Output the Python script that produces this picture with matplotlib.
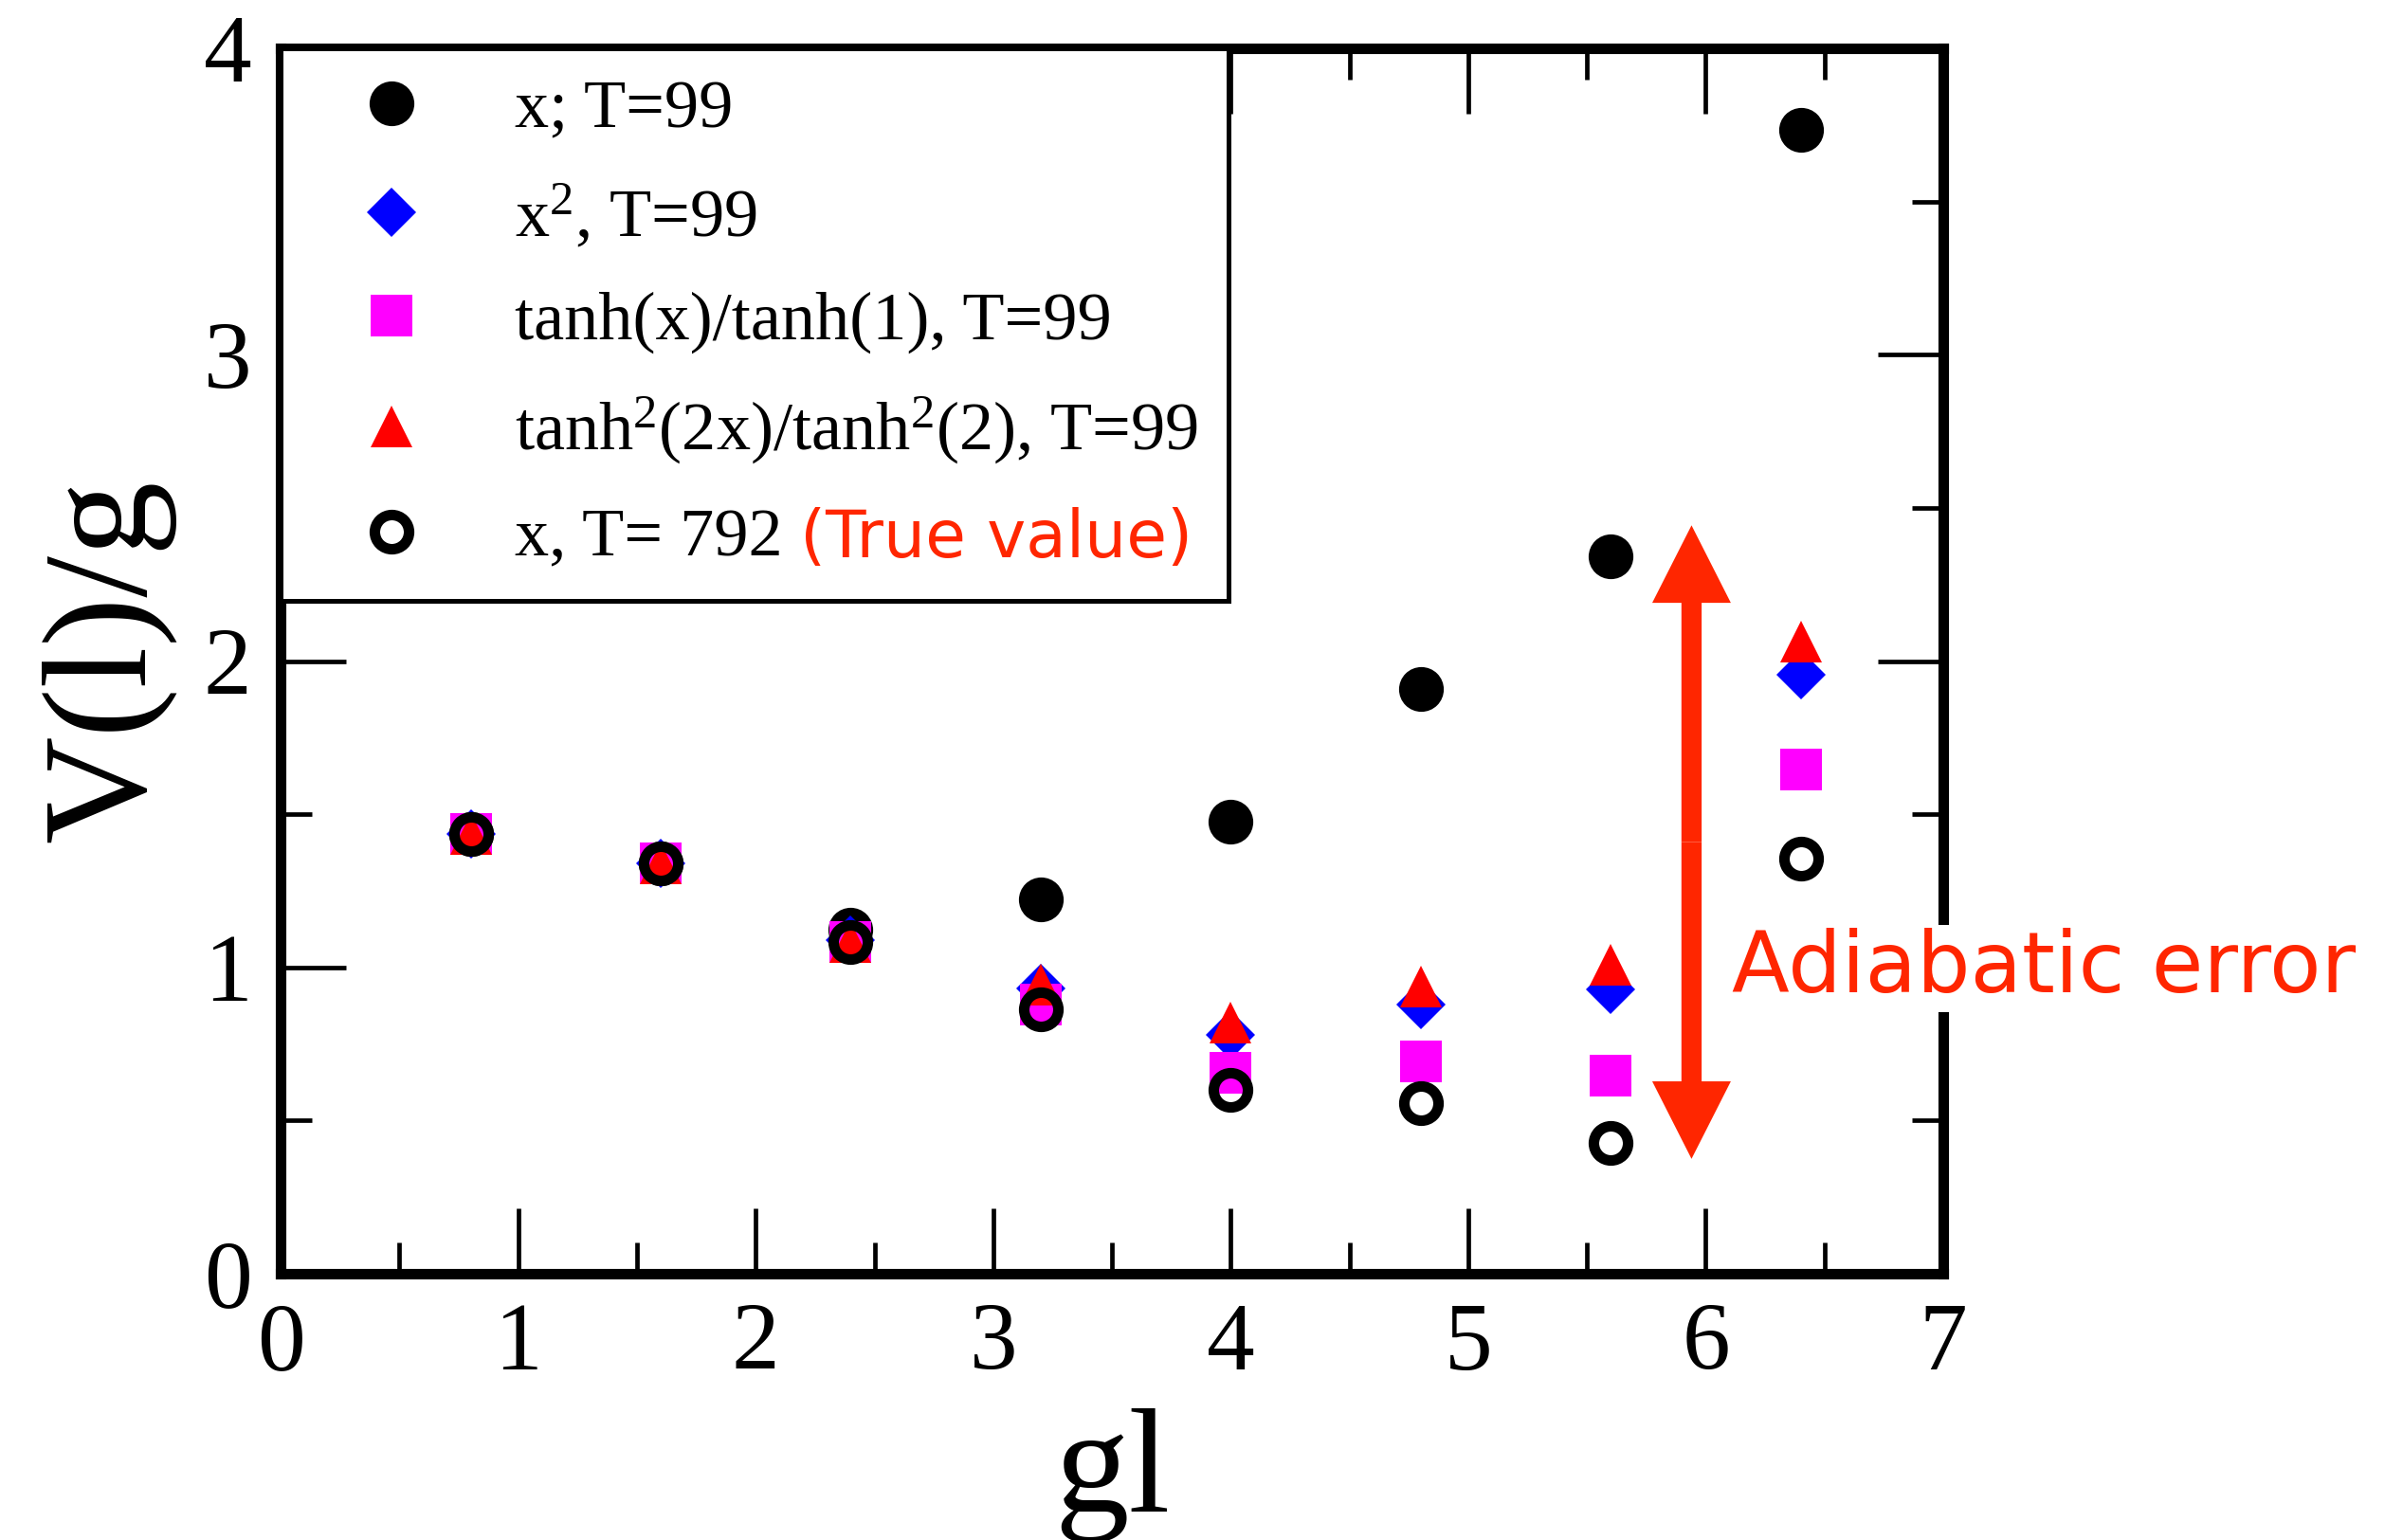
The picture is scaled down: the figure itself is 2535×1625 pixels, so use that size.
import matplotlib
matplotlib.use('Agg')
import matplotlib.pyplot as plt
from matplotlib.ticker import MultipleLocator

plt.rcParams['font.family'] = 'Liberation Serif'
plt.rcParams['mathtext.fontset'] = 'custom'
plt.rcParams['mathtext.rm'] = 'Liberation Serif'
plt.rcParams['mathtext.it'] = 'Liberation Serif:italic'

# data
gl = [0.8, 1.6, 2.4, 3.2, 4.0, 4.8, 5.6, 6.4]
v_x = [1.437, 1.341, 1.122, 1.223, 1.477, 1.909, 2.342, 3.734]
v_x2 = [1.437, 1.341, 1.090, 0.932, 0.780, 0.879, 0.928, 1.954]
v_tanh = [1.437, 1.341, 1.084, 0.879, 0.657, 0.693, 0.647, 1.647]
v_tanh2 = [1.437, 1.341, 1.084, 0.943, 0.820, 0.937, 1.009, 2.065]
v_true = [1.437, 1.341, 1.084, 0.864, 0.601, 0.557, 0.427, 1.356]

labels = ['x; T=99',
          r'$\mathrm{x}^{2}$, T=99',
          'tanh(x)/tanh(1), T=99',
          r'tan$\mathrm{h}^{2}$(2x)/tan$\mathrm{h}^{2}$(2), T=99',
          'x, T= 792']

accent = '#ff2600'

fig = plt.figure(figsize=(25.35, 16.25), dpi=100)
ax = fig.add_axes([0.1168, 0.1729, 0.8087 - 0.1168, 0.9686 - 0.1729])

h1, = ax.plot(gl, v_x, ls='none', marker='o', ms=34, color='black', mew=0, zorder=3)
h2, = ax.plot(gl, v_x2, ls='none', marker='D', ms=26.5, color='#0000ff', mew=0, zorder=4)
h3, = ax.plot(gl, v_tanh, ls='none', marker='s', ms=31, color='#ff00ff', mew=0, zorder=5)
h4, = ax.plot(gl, v_tanh2, ls='none', marker='^', ms=31, color='#ff0000', mew=0, zorder=6)
h5, = ax.plot(gl, v_true, ls='none', marker='o', ms=26, mfc='none', mec='black', mew=8, zorder=7)

ax.set_xlim(0, 7)
ax.set_ylim(0, 4)
ax.xaxis.set_major_locator(MultipleLocator(1))
ax.xaxis.set_minor_locator(MultipleLocator(0.5))
ax.yaxis.set_major_locator(MultipleLocator(1))
ax.yaxis.set_minor_locator(MultipleLocator(0.5))
ax.tick_params(which='both', direction='in', top=True, right=True, width=3.4)
ax.tick_params(which='major', length=50, labelsize=73, pad=22)
ax.tick_params(which='minor', length=24)
for s in ax.spines.values():
    s.set_linewidth(8)

ax.set_xlabel('gl', fontsize=113, va='baseline')
ax.xaxis.set_label_coords(0.5, (1344 - 1595) / 1293)
ax.set_ylabel('V(l)/g', fontsize=113, va='baseline')
ax.yaxis.set_label_coords((152 - 296) / 1754, 0.5)

leg = ax.legend([h1, h2, h3, h4, h5], labels, loc='upper left',
                bbox_to_anchor=(0, 1), borderaxespad=0, fontsize=52,
                numpoints=1, fancybox=False, framealpha=1, edgecolor='black',
                borderpad=0.45, handlelength=2.33, handletextpad=0.64,
                labelspacing=0.6)
leg.get_frame().set_linewidth(3.6)

# red suffix on the last legend entry; drawn after the legend
ax.annotate('(True value)', xy=(1, 0.5), xycoords=leg.get_texts()[4],
            xytext=(13, 0), textcoords='offset points', va='center', ha='left',
            fontsize=50, color=accent, family='DejaVu Sans', zorder=6)

# adiabatic error arrow, drawn as two heads from the middle
xa, ya_top, ya_bot = 5.94, 2.443, 0.375
ymid = (ya_top + ya_bot) / 2
for y_end in (ya_top, ya_bot):
    ax.arrow(xa, ymid, 0, y_end - ymid, width=0.085, head_width=0.331,
             head_length=0.253, length_includes_head=True, color=accent,
             lw=0, zorder=8)

ax.text(6.11, 0.92, 'Adiabatic error', fontsize=64, color=accent,
        family='DejaVu Sans', ha='left', va='baseline', zorder=10,
        clip_on=False, bbox=dict(fc='white', ec='none', pad=2))

fig.savefig('out.png', dpi=100)
